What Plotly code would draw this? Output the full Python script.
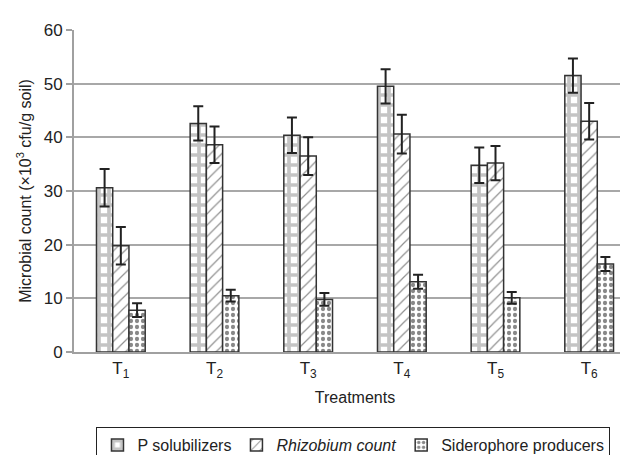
import plotly.graph_objects as go

categories = ["T<sub>1</sub>", "T<sub>2</sub>", "T<sub>3</sub>", "T<sub>4</sub>", "T<sub>5</sub>", "T<sub>6</sub>"]
p_solubilizers = [30.6, 42.6, 40.4, 49.5, 34.8, 51.5]
p_err = [3.5, 3.2, 3.3, 3.2, 3.3, 3.2]
rhizobium = [19.8, 38.6, 36.5, 40.6, 35.2, 43.0]
rhizobium_err = [3.5, 3.4, 3.5, 3.6, 3.2, 3.4]
siderophore = [7.8, 10.5, 9.8, 13.1, 10.1, 16.4]
siderophore_err = [1.3, 1.1, 1.2, 1.3, 1.1, 1.3]

font_family = "Liberation Sans, Arial, sans-serif"
err_style = dict(type="data", visible=True, color="#222222", thickness=2, width=5)
line_style = dict(color="#333333", width=1.5)

fig = go.Figure()
fig.add_trace(go.Bar(
    x=categories, y=p_solubilizers, name="P solubilizers",
    error_y=dict(array=p_err, **err_style),
    marker=dict(color="white", line=line_style,
                pattern=dict(shape="+", fgcolor="#8a8a8a", bgcolor="white", size=10, solidity=0.6, fillmode="overlay")),
))
fig.add_trace(go.Bar(
    x=categories, y=rhizobium, name="<i>Rhizobium count</i>",
    error_y=dict(array=rhizobium_err, **err_style),
    marker=dict(color="white", line=line_style,
                pattern=dict(shape="/", fgcolor="#222222", bgcolor="white", size=8, solidity=0.15, fillmode="overlay")),
))
fig.add_trace(go.Bar(
    x=categories, y=siderophore, name="Siderophore producers",
    error_y=dict(array=siderophore_err, **err_style),
    marker=dict(color="white", line=line_style,
                pattern=dict(shape=".", fgcolor="#111111", bgcolor="white", size=6, solidity=0.4, fillmode="overlay")),
))

fig.update_layout(
    width=628, height=455,
    margin=dict(l=66, r=0, t=22, b=104),
    paper_bgcolor="white", plot_bgcolor="white",
    font=dict(family=font_family, size=16, color="#222222"),
    barmode="group", bargap=0.48, bargroupgap=0,
    showlegend=True,
    legend=dict(orientation="h", x=0.04, y=-0.234, xanchor="left", yanchor="top",
                bordercolor="#222222", borderwidth=1, bgcolor="white",
                font=dict(size=16), itemwidth=30, tracegroupgap=0),
    xaxis=dict(
        showline=True, linecolor="#a0a0a0", linewidth=2, ticks="",
        title=dict(text="Treatments", standoff=12, font=dict(size=16)),
        tickfont=dict(size=17),
    ),
    yaxis=dict(
        range=[0, 60], dtick=10, showline=True, linecolor="#a0a0a0", linewidth=2,
        ticks="outside", ticklen=6, tickwidth=2, tickcolor="#a0a0a0",
        showgrid=True, gridcolor="#a8a8a8", gridwidth=2, zeroline=False,
        title=dict(text="Microbial count (×10<sup>3</sup> cfu/g soil)", standoff=8, font=dict(size=16)),
        tickfont=dict(size=17),
    ),
)

fig.write_html("out.html")
